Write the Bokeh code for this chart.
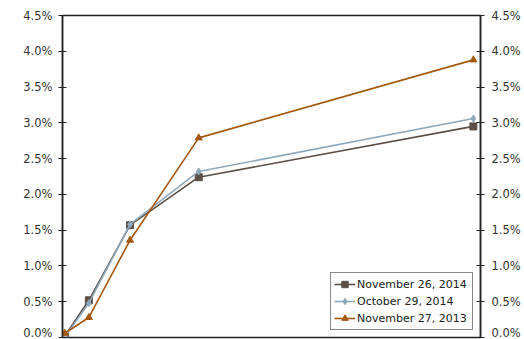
from bokeh.plotting import figure
from bokeh.models import LinearAxis, Range1d, FixedTicker, PrintfTickFormatter, Legend, LegendItem
from bokeh.embed import file_html
from bokeh.resources import INLINE

# Treasury yield curve: maturity (years) vs yield (%)
maturity_years = [0.25, 2, 5, 10, 30]
yield_nov_26_2014 = [0.02, 0.52, 1.57, 2.24, 2.95]
yield_oct_29_2014 = [0.01, 0.48, 1.58, 2.32, 3.06]
yield_nov_27_2013 = [0.06, 0.28, 1.36, 2.79, 3.88]
series_names = ["November 26, 2014", "October 29, 2014", "November 27, 2013"]
y_ticks = [0.0, 0.5, 1.0, 1.5, 2.0, 2.5, 3.0, 3.5, 4.0, 4.5]

FONT = "DejaVu Sans"
TEXT = "#333333"

p = figure(width=524, height=339, output_backend="svg", toolbar_location=None,
           x_range=Range1d(0.08, 30.52), y_range=Range1d(0, 4.5),
           min_border_left=62, min_border_right=44, min_border_top=15,
           min_border_bottom=2, x_axis_location=None, y_axis_location=None)
p.xgrid.visible = False
p.ygrid.visible = False
p.outline_line_color = "#222222"
p.outline_line_width = 1.5
p.background_fill_color = "white"
p.border_fill_color = "white"

def style_axis(ax, standoff):
    ax.ticker = FixedTicker(ticks=y_ticks)
    ax.formatter = PrintfTickFormatter(format="%.1f%%")
    ax.major_tick_in = 4
    ax.major_tick_out = 4
    ax.minor_tick_in = 0
    ax.minor_tick_out = 0
    ax.axis_line_color = "#222222"
    ax.axis_line_width = 1.5
    ax.major_tick_line_color = "#222222"
    ax.major_tick_line_width = 1.2
    ax.major_label_text_font = FONT
    ax.major_label_text_font_size = "11.5px"
    ax.major_label_text_color = TEXT
    ax.major_label_standoff = standoff

left = LinearAxis()
style_axis(left, 6)
p.add_layout(left, "left")
right = LinearAxis()
style_axis(right, 7)
p.add_layout(right, "right")

colors = ["#5b4f47", "#8ea8bb", "#a4580f"]
markers = ["square", "diamond", "triangle"]
sizes = [7, 7, 7]
series = [yield_nov_26_2014, yield_oct_29_2014, yield_nov_27_2013]

items = []
for name, ys, c, m, s in zip(series_names, series, colors, markers, sizes):
    ln = p.line(maturity_years, ys, line_color=c, line_width=1.6)
    sc = p.scatter(maturity_years, ys, marker=m, size=s, fill_color=c, line_color=c)
    items.append(LegendItem(label=name, renderers=[ln, sc]))

legend = Legend(items=items, location="bottom_right")
legend.margin = 7
legend.padding = 3
legend.spacing = 1
legend.glyph_width = 21
legend.glyph_height = 16
legend.label_standoff = 2
legend.label_width = 112
legend.label_height = 16
legend.label_text_font = FONT
legend.label_text_font_size = "11px"
legend.label_text_color = "#222222"
legend.border_line_color = "#111111"
legend.border_line_width = 1
legend.background_fill_alpha = 1
p.add_layout(legend, "center")

open("out.html", "w").write(file_html(p, INLINE))
